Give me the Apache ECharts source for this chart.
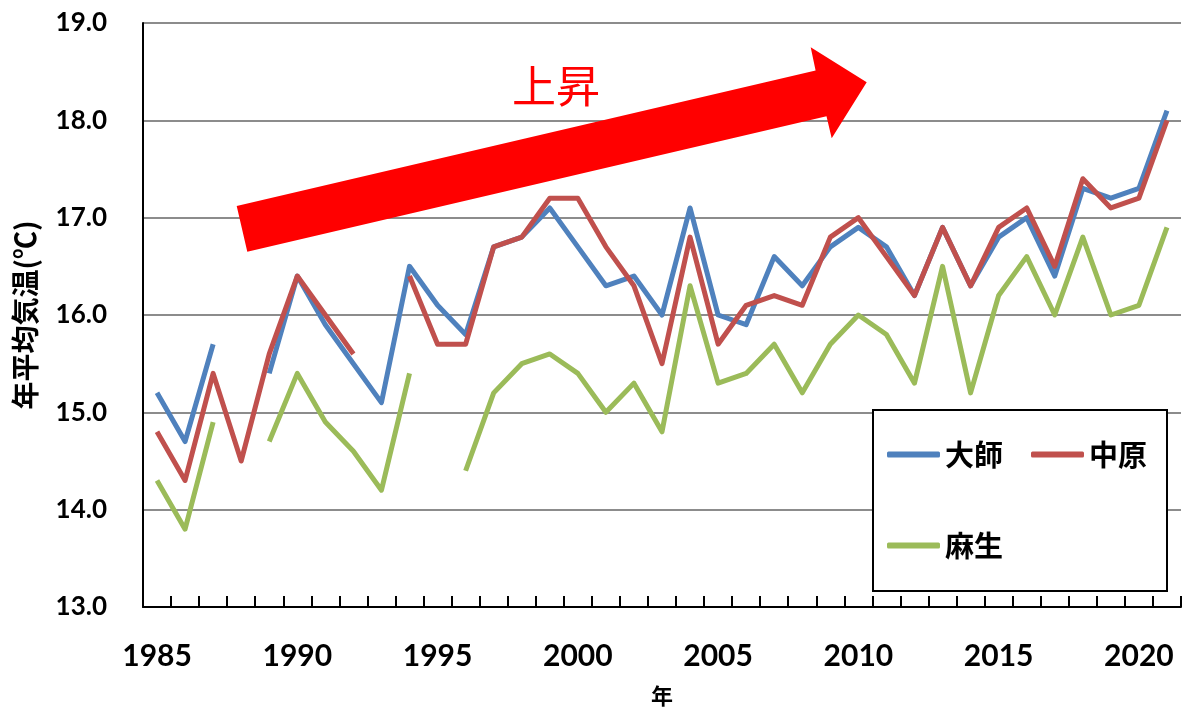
<!DOCTYPE html>
<html>
<head>
<meta charset="utf-8">
<title>年平均気温</title>
<script src="https://cdn.jsdelivr.net/npm/echarts@6/dist/echarts.min.js"></script>
<style>
	html, body {margin: 0; padding: 0; background: #fff;}
	#chart {width: 1182px; height: 712px;}
</style>
</head>
<body>
<div id="chart"></div>
<script>
// 年
var years = [];
for (var y = 1985; y <= 2021; y++) {
	years.push(String(y));
}

// 年平均気温 (℃)
var daishi = [15.2, 14.7, 15.7, null, 15.4, 16.4, 15.9, 15.5, 15.1, 16.5,
	16.1, 15.8, 16.7, 16.8, 17.1, 16.7, 16.3, 16.4, 16.0, 17.1,
	16.0, 15.9, 16.6, 16.3, 16.7, 16.9, 16.7, 16.2, 16.9, 16.3,
	16.8, 17.0, 16.4, 17.3, 17.2, 17.3, 18.1];
var nakahara = [14.8, 14.3, 15.4, 14.5, 15.6, 16.4, 16.0, 15.6, null, 16.4,
	15.7, 15.7, 16.7, 16.8, 17.2, 17.2, 16.7, 16.3, 15.5, 16.8,
	15.7, 16.1, 16.2, 16.1, 16.8, 17.0, 16.6, 16.2, 16.9, 16.3,
	16.9, 17.1, 16.5, 17.4, 17.1, 17.2, 18.0];
var asao = [14.3, 13.8, 14.9, null, 14.7, 15.4, 14.9, 14.6, 14.2, 15.4,
	null, 14.4, 15.2, 15.5, 15.6, 15.4, 15.0, 15.3, 14.8, 16.3,
	15.3, 15.4, 15.7, 15.2, 15.7, 16.0, 15.8, 15.3, 16.5, 15.2,
	16.2, 16.6, 16.0, 16.8, 16.0, 16.1, 16.9];

var seriesNames = ['大師', '中原', '麻生'];
var colorArr = ['#4F81BD', '#C0504D', '#9BBB59'];

var cjkFont = '"Noto Sans CJK JP", sans-serif';
var numFont = 'Lato, "Liberation Sans", sans-serif';

function makeLine(name, data, color) {
	return {
		name: name,
		type: 'line',
		data: data,
		symbol: 'none',
		connectNulls: false,
		z: 3,
		lineStyle: {color: color, width: 5, join: 'round'},
		itemStyle: {color: color}
	};
}

var chart = echarts.init(document.getElementById('chart'));

var option = {
	animation: false,
	backgroundColor: '#fff',
	grid: {left: 143, right: 1, top: 23, bottom: 105, outerBoundsMode: 'none'},
	legend: [{
		data: ['大師', '中原'],
		left: 887,
		top: 440,
		padding: 0,
		itemGap: 28,
		itemWidth: 53,
		itemHeight: 6,
		icon: 'roundRect',
		z: 10,
		selectedMode: false,
		textStyle: {fontFamily: cjkFont, fontWeight: 'bold', fontSize: 29, color: '#000'}
	}, {
		data: ['麻生'],
		left: 887,
		top: 531,
		padding: 0,
		itemWidth: 53,
		itemHeight: 6,
		icon: 'roundRect',
		z: 10,
		selectedMode: false,
		textStyle: {fontFamily: cjkFont, fontWeight: 'bold', fontSize: 29, color: '#000'}
	}],
	xAxis: {
		type: 'category',
		data: years,
		boundaryGap: true,
		name: '年',
		nameLocation: 'middle',
		nameGap: 78,
		nameTextStyle: {fontFamily: cjkFont, fontWeight: 'bold', fontSize: 22, color: '#000'},
		axisLine: {lineStyle: {color: '#000', width: 2}},
		axisTick: {show: true, inside: true, length: 11, interval: 0, lineStyle: {color: '#000', width: 2}},
		axisLabel: {
			interval: 4,
			margin: 34,
			fontFamily: numFont,
			fontWeight: 'bold',
			fontSize: 30,
			color: '#000'
		},
		splitLine: {show: false}
	},
	yAxis: {
		type: 'value',
		min: 13,
		max: 19,
		interval: 1,
		name: '年平均気温(℃)',
		nameLocation: 'middle',
		nameGap: 104,
		nameRotate: 90,
		nameTextStyle: {fontFamily: cjkFont, fontWeight: 'bold', fontSize: 28, color: '#000'},
		axisLine: {show: true, lineStyle: {color: '#000', width: 2}},
		axisTick: {show: false},
		axisLabel: {
			margin: 36,
			fontFamily: numFont,
			fontWeight: 'bold',
			fontSize: 26,
			color: '#000',
			formatter: function (v) { return v.toFixed(1); }
		},
		splitLine: {lineStyle: {color: '#8c8c8c', width: 2}}
	},
	graphic: [{
		// 凡例の枠
		type: 'rect',
		z: 5,
		shape: {x: 873, y: 410, width: 294, height: 181},
		style: {fill: '#fff', stroke: '#000', lineWidth: 2}
	}, {
		// 上昇の矢印
		type: 'polygon',
		z: 6,
		shape: {
			points: [[236.7, 206], [815.6, 70.5], [810.7, 47.3], [866.7, 82.3],
				[831.7, 138.3], [826.5, 116.2], [247.3, 251.7]]
		},
		style: {fill: '#FF0000'}
	}, {
		type: 'text',
		z: 6,
		x: 556,
		y: 86,
		style: {
			text: '上昇',
			fill: '#FF0000',
			font: '44px ' + cjkFont,
			align: 'center',
			verticalAlign: 'middle'
		}
	}],
	series: [
		makeLine(seriesNames[0], daishi, colorArr[0]),
		makeLine(seriesNames[1], nakahara, colorArr[1]),
		makeLine(seriesNames[2], asao, colorArr[2])
	]
};

chart.setOption(option);
</script>
</body>
</html>
